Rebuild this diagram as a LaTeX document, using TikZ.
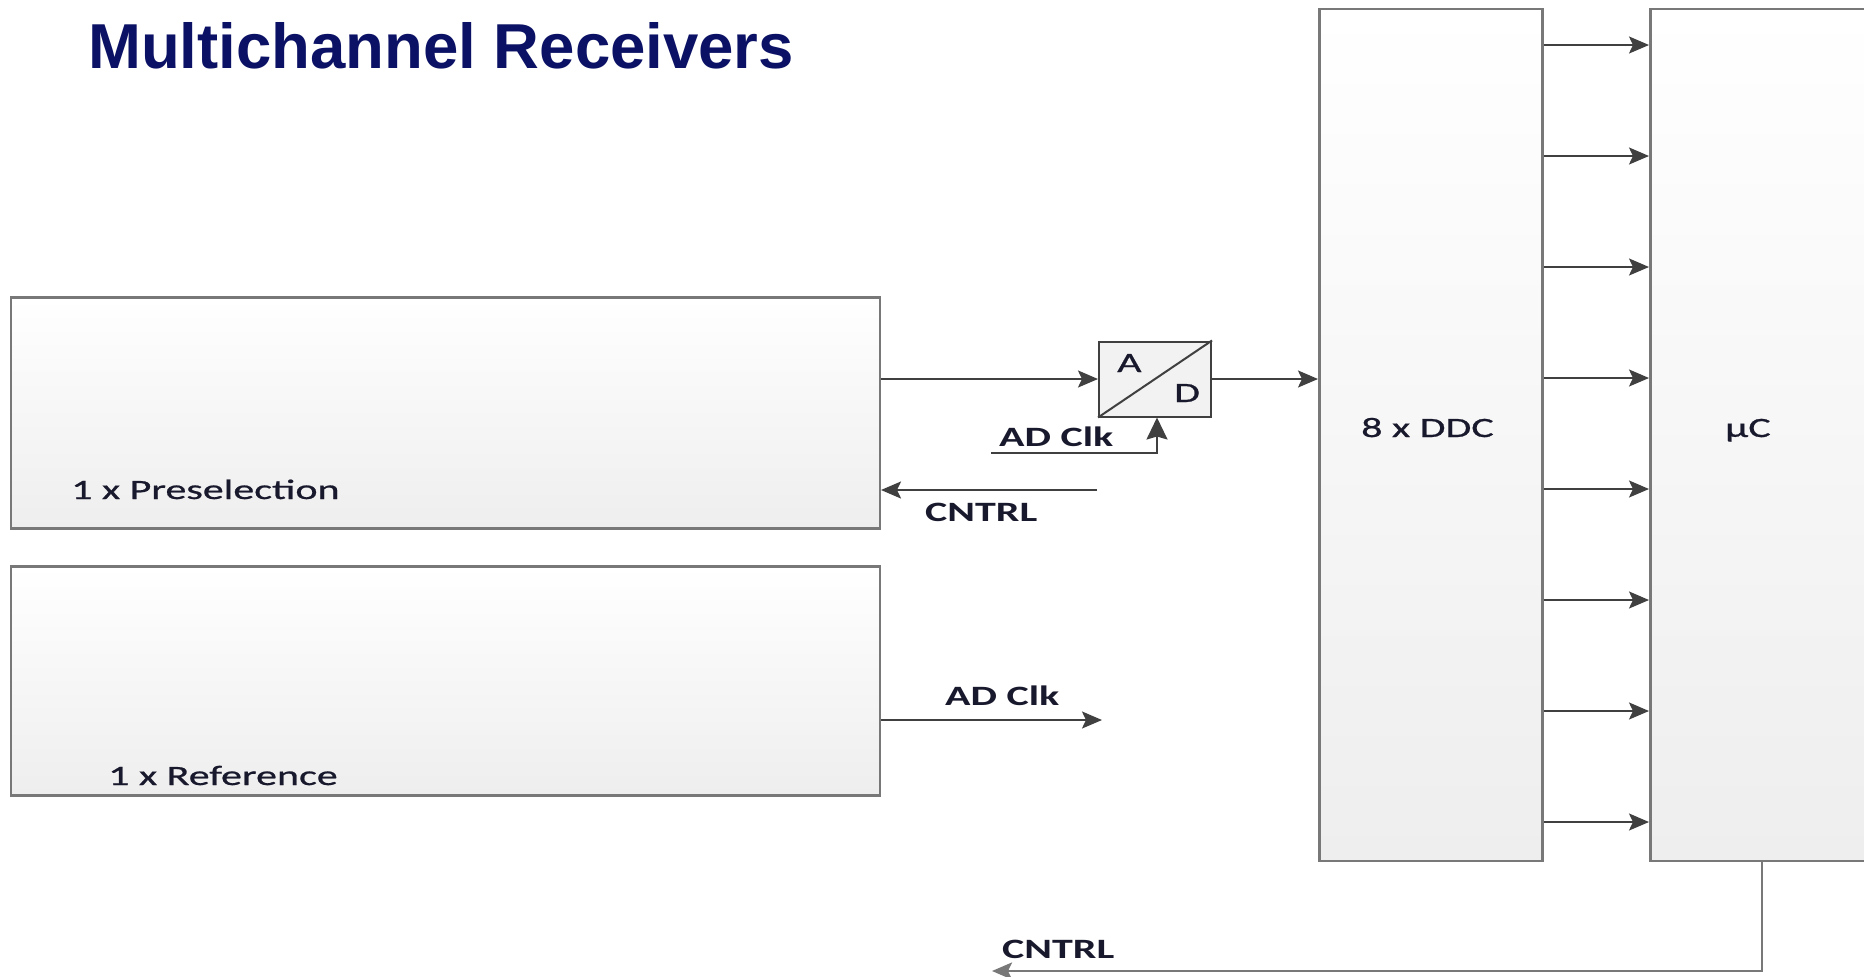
\documentclass[tikz,border=0pt]{standalone}
\usepackage{fontspec}
\usetikzlibrary{arrows.meta,calc}
\newfontfamily\lblfont[FakeStretch=1.5,FakeBold=0.8]{Carlito}
\newfontfamily\blblfont[FakeStretch=1.5]{Carlito}
\newfontfamily\titlefont{Liberation Sans}
\definecolor{titleblue}{RGB}{11,17,100}
\definecolor{txt}{RGB}{25,25,45}
\definecolor{boxedge}{RGB}{120,120,120}
\definecolor{boxbot}{RGB}{238,238,238}
\definecolor{linec}{RGB}{64,64,64}
\tikzset{
  blk/.style={draw=boxedge, line width=2.5pt, top color=white, bottom color=boxbot, inner sep=0pt, anchor=north west},
  adcbox/.style={draw=linec, line width=2pt, fill={rgb,255:red,242;green,242;blue,242}, inner sep=0pt, anchor=north west},
  lbl/.style={font=\lblfont\fontsize{28}{30}\selectfont, text=txt, inner sep=0pt, anchor=base west},
  blbl/.style={font=\blblfont\bfseries\fontsize{28}{30}\selectfont, text=txt, inner sep=0pt, anchor=base west},
  arr/.style={draw=linec, line width=2pt, -{Stealth[length=20pt,width=17pt,inset=4pt]}},
  bigarr/.style={draw=linec, line width=2pt, -{Stealth[length=22pt,width=21pt,inset=3pt]}},
}
\begin{document}
\begin{tikzpicture}[x=1pt,y=-1pt]
\useasboundingbox (0,0) rectangle (1864,977);
% title
\node[font=\titlefont\bfseries\fontsize{63.5}{70}\selectfont, text=titleblue, inner sep=0pt, anchor=base west] (title) at (88,68) {Multichannel Receivers};
% boxes
\node[blk, minimum width=869, minimum height=231] (pre) at (9.5,296) {};
\node[blk, minimum width=869, minimum height=229] (ref) at (9.5,565) {};
\node[blk, minimum width=223, minimum height=852] (ddc) at (1318,7.5) {};
\node[blk, minimum width=223, minimum height=852] (uc) at (1649,7.5) {};
\node[adcbox, minimum width=112, minimum height=75] (adc) at (1098,340.5) {};
\draw[linec, line width=2pt] (adc.south west) -- (adc.north east);
% labels
\node[lbl] (prel) at (71,499) {1 x Preselection};
\node[lbl] (refl) at (108,785) {1 x Reference};
\node[lbl] (ddcl) at (1361,437) {8 x DDC};
\node[lbl] (ucl) at (1725,437) {µC};
\node[lbl] (al) at (1117,372) {A};
\node[lbl] (dl) at (1174,402) {D};
\node[blbl] (clkl1) at (999,446) {AD Clk};
\node[blbl] (cntl1) at (925,521) {CNTRL};
\node[blbl] (clkl2) at (945,705) {AD Clk};
\node[blbl] (cntl2) at (1002,958) {CNTRL};
% connectors
\draw[arr] (pre.east |- adc.west) -- (adc.west);
\draw[arr] (adc.east) -- (adc.east -| ddc.west);
\coordinate (clka) at (991,452.5);
\coordinate (clkb) at (1157,452.5);
\draw[bigarr] (clka) -- (clkb) -- (clkb |- adc.south);
\coordinate (cnta) at (1097,490);
\draw[arr] (cnta) -- (cnta -| pre.east);
\coordinate (clkc) at (1102,720);
\draw[arr] (clkc -| ref.east) -- (clkc);
\foreach \yy in {45,156,267,378,489,600,711,822}{
  \draw[arr] (ddc.east |- 0,\yy) -- (uc.west |- 0,\yy);
}
\coordinate (cntb) at (992,971);
\draw[arr, draw=boxedge, line width=2.5pt] (uc.south) |- (cntb);
\end{tikzpicture}
\end{document}
